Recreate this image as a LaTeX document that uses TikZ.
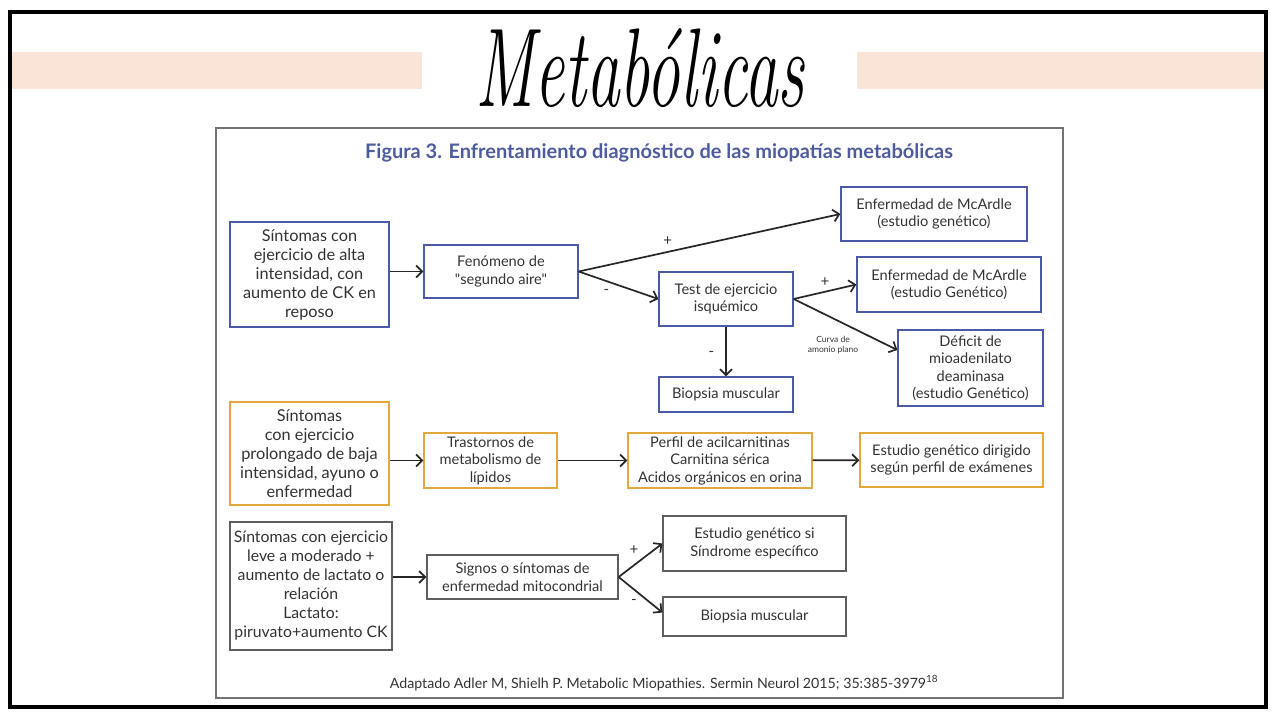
\documentclass[tikz,border=0pt]{standalone}
\usepackage{fontspec}
\usepackage{tikz}
\usetikzlibrary{positioning, arrows.meta}
\newfontfamily\diagfont{Lato}
\definecolor{bandpeach}{HTML}{FAE4D7}
\definecolor{figblue}{HTML}{4A5AA6}
\definecolor{figorange}{HTML}{E3A73B}
\definecolor{figgray}{HTML}{5E5E5E}
\definecolor{figtext}{HTML}{333333}
\definecolor{titleblue}{HTML}{4D5C9E}

\begin{document}
\begin{tikzpicture}[
    x=1pt, y=-1pt,
    box/.style={draw, line width=1.3pt, fill=white, align=center, text=figtext, inner sep=2pt,
        font=\diagfont\fontsize{14.6}{17.5}\selectfont},
    bigbox/.style={box, line width=2.6pt, font=\diagfont\fontsize{16.3}{19}\selectfont},
    arrow/.style={-{Straight Barb[length=6pt, width=12pt]}, line width=1.7pt, draw=black!85},
    sign/.style={font=\diagfont\fontsize{15}{15}\selectfont, text=figtext, inner sep=1pt}
]
\useasboundingbox (0,0) rectangle (1280,720);
% page frame and heading
\fill[white] (0,0) rectangle (1280,720);
\fill[bandpeach] (12,52) rectangle (422,89);
\fill[bandpeach] (857,52) rectangle (1264,89);
\draw[line width=4pt] (10,12) rectangle (1266,707);
\node (head) at (640,68) {\fontsize{112}{112}\selectfont\itshape\scalebox{0.6}[1]{Metab\'olicas}};
\draw[line width=1.2pt, draw=black!55] (216,128) rectangle (1063,698);
\node[font=\diagfont\bfseries\fontsize{20}{22}\selectfont, text=titleblue] (fig) at (659,153)
    {Figura 3. Enfrentamiento diagnóstico de las miopatías metabólicas};

% high intensity row
\node[bigbox, draw=figblue, minimum width=159, minimum height=105] (s1) at (309.5,274.5)
    {Síntomas con\\ejercicio de alta\\intensidad, con\\aumento de CK en\\reposo};
\node[box, draw=figblue, minimum width=154, minimum height=53] (fen) at (501,271.5)
    {Fenómeno de\\"segundo aire"};
\node[box, draw=figblue, minimum width=186, minimum height=54] (mc1) at (934,214)
    {Enfermedad de McArdle\\(estudio genético)};
\node[box, draw=figblue, minimum width=134, minimum height=54] (test) at (726,299)
    {Test de ejercicio\\isquémico};
\node[box, draw=figblue, minimum width=184, minimum height=55] (mc2) at (949,284.5)
    {Enfermedad de McArdle\\(estudio Genético)};
\node[box, draw=figblue, minimum width=145, minimum height=76] (def) at (970.5,368)
    {Déficit de\\mioadenilato\\deaminasa\\(estudio Genético)};
\node[box, draw=figblue, minimum width=134, minimum height=35] (bio1) at (726,394.5)
    {Biopsia muscular};

% low intensity row
\node[bigbox, draw=figorange, minimum width=159, minimum height=103] (s2) at (309.5,453.5)
    {Síntomas\\con ejercicio\\prolongado de baja\\intensidad, ayuno o\\enfermedad};
\node[box, draw=figorange, minimum width=133, minimum height=55] (tras) at (490.5,460.5)
    {Trastornos de\\metabolismo de\\lípidos};
\node[box, draw=figorange, minimum width=184, minimum height=55] (perf) at (720,460.5)
    {Perfil de acilcarnitinas\\Carnitina sérica\\Acidos orgánicos en orina};
\node[box, draw=figorange, minimum width=183, minimum height=54] (est) at (951.5,460)
    {Estudio genético dirigido\\según perfil de exámenes};

% mild exercise row
\node[bigbox, draw=figgray, minimum width=162, minimum height=128, inner sep=0.5pt,
    font=\diagfont\fontsize{15.8}{19}\selectfont] (s3) at (311,586)
    {Síntomas con ejercicio\\leve a moderado +\\aumento de lactato o\\relación\\Lactato:\\piruvato+aumento CK};
\node[box, draw=figgray, minimum width=191, minimum height=44] (sig) at (522.5,577)
    {Signos o síntomas de\\enfermedad mitocondrial};
\node[box, draw=figgray, minimum width=183, minimum height=55] (gen) at (754.5,543.5)
    {Estudio genético si\\Síndrome específico};
\node[box, draw=figgray, minimum width=183, minimum height=39] (bio2) at (754.5,616.5)
    {Biopsia muscular};

\node[font=\diagfont\fontsize{14.2}{16}\selectfont, text=figtext] (ref) at (664,683)
    {Adaptado Adler M, Shielh P. Metabolic Miopathies. Sermin Neurol 2015; 35:385-3979\textsuperscript{18}};

\draw[arrow] (s1.east |- fen) -- (fen.west);
\draw[arrow] (fen.east) -- node[sign, pos=0.34, above=5pt] {+} (mc1.west);
\draw[arrow] (fen.east) -- node[sign, pos=0.45, below left=5pt] {-} (test.west);
\draw[arrow] (test.east) -- node[sign, pos=0.5, above=3pt] {+} (mc2.west);
\draw[arrow] (test.east) -- node[pos=0.38, below=17pt, align=center, text=figtext, inner sep=0pt,
    font=\diagfont\fontsize{8.5}{10}\selectfont] {Curva de\\amonio plano} ([yshift=18pt]def.west);
\draw[arrow] (test) -- node[sign, pos=0.55, left=10pt] {-} (bio1);
\draw[arrow] (s2.east |- tras) -- (tras.west);
\draw[arrow] (tras) -- (perf);
\draw[arrow] (perf) -- (est);
\draw[arrow] (s3.east |- sig) -- (sig.west);
\draw[arrow] (sig.east) -- node[sign, pos=0.35, above=9pt] {+} (gen.west);
\draw[arrow] (sig.east) -- node[sign, pos=0.35, below=8pt] {-} ([yshift=4pt]bio2.west);
\end{tikzpicture}
\end{document}
